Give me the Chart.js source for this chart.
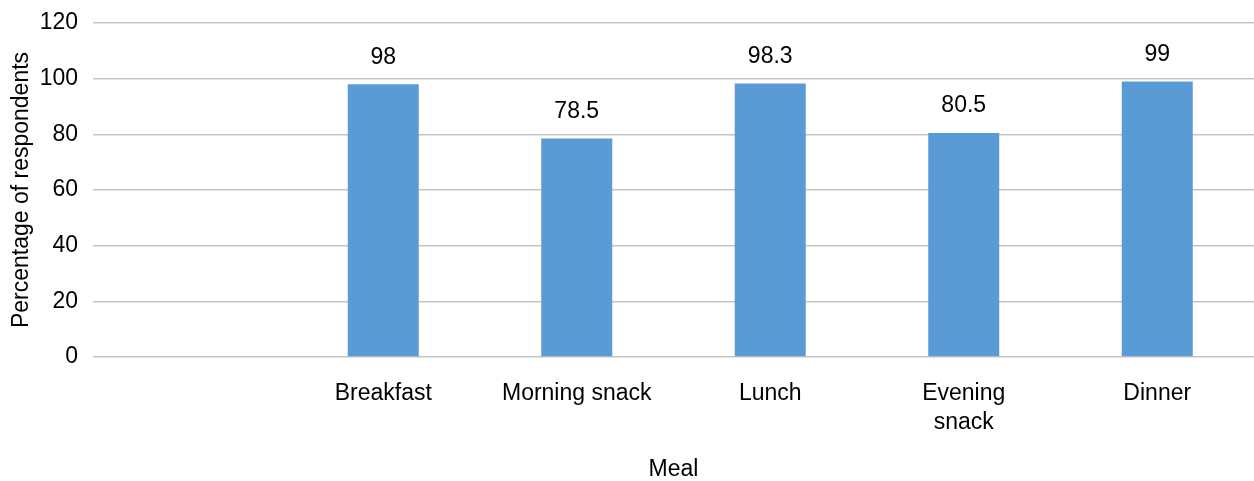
<!DOCTYPE html>
<html>
<head>
<meta charset="utf-8">
<script src="https://cdn.jsdelivr.net/npm/chart.js@4/dist/chart.umd.min.js"></script>
<style>
html,body{margin:0;padding:0;background:#fff;}
#wrap{width:1254px;height:481px;position:relative;}
</style>
</head>
<body>
<div id="wrap"><canvas id="c" width="1254" height="481"></canvas></div>
<script>
const categories = ["", "Breakfast", "Morning snack", "Lunch", ["Evening", "snack"], "Dinner"];
const percentages = [null, 98, 78.5, 98.3, 80.5, 99];
const yTicks = [0, 20, 40, 60, 80, 100, 120];

const FONT = "'Liberation Sans', Arial, sans-serif";
const FS = 23;

const valueLabels = {
  id: 'valueLabels',
  afterDatasetsDraw(chart) {
    const ctx = chart.ctx;
    const meta = chart.getDatasetMeta(0);
    ctx.save();
    ctx.font = FS + "px " + FONT;
    ctx.fillStyle = '#000';
    ctx.textAlign = 'center';
    ctx.textBaseline = 'middle';
    meta.data.forEach((bar, i) => {
      const v = percentages[i];
      if (v === null || v === undefined) return;
      ctx.fillText(String(v), bar.x, bar.y - 27);
    });
    ctx.restore();
  }
};

new Chart(document.getElementById('c'), {
  type: 'bar',
  data: {
    labels: categories,
    datasets: [{
      data: percentages,
      backgroundColor: '#5b9bd5',
      borderWidth: 0,
      categoryPercentage: 0.367,
      barPercentage: 1
    }]
  },
  options: {
    responsive: false,
    animation: false,
    devicePixelRatio: 1,
    layout: { padding: { top: 23, right: 0, left: 0, bottom: 0 } },
    plugins: { legend: { display: false }, tooltip: { enabled: false } },
    scales: {
      x: {
        grid: { display: false, drawTicks: false },
        border: { display: false },
        ticks: {
          color: '#000',
          font: { family: FONT, size: FS, lineHeight: 1.26 },
          padding: 22,
          maxRotation: 0,
          autoSkip: false
        },
        title: {
          display: true,
          text: 'Meal',
          color: '#000',
          font: { family: FONT, size: FS, lineHeight: 0.95 },
          padding: { top: 0, bottom: 0 }
        },
        afterFit(scale) { scale.height = 124; scale.paddingLeft = 0; scale.paddingRight = 0; }
      },
      y: {
        min: 0,
        max: 120,
        afterBuildTicks(scale) { scale.ticks = yTicks.map(v => ({ value: v })); },
        grid: { color: '#c4c4c4', lineWidth: 1.6, drawTicks: false },
        border: { display: false },
        ticks: {
          color: '#000',
          font: { family: FONT, size: FS },
          padding: 15
        },
        title: {
          display: true,
          text: 'Percentage of respondents',
          color: '#000',
          font: { family: FONT, size: FS },
          padding: { top: 8, bottom: 0 }
        },
        afterFit(scale) { scale.width = 93; scale.paddingTop = 0; scale.paddingBottom = 0; }
      }
    }
  },
  plugins: [valueLabels]
});
</script>
</body>
</html>
